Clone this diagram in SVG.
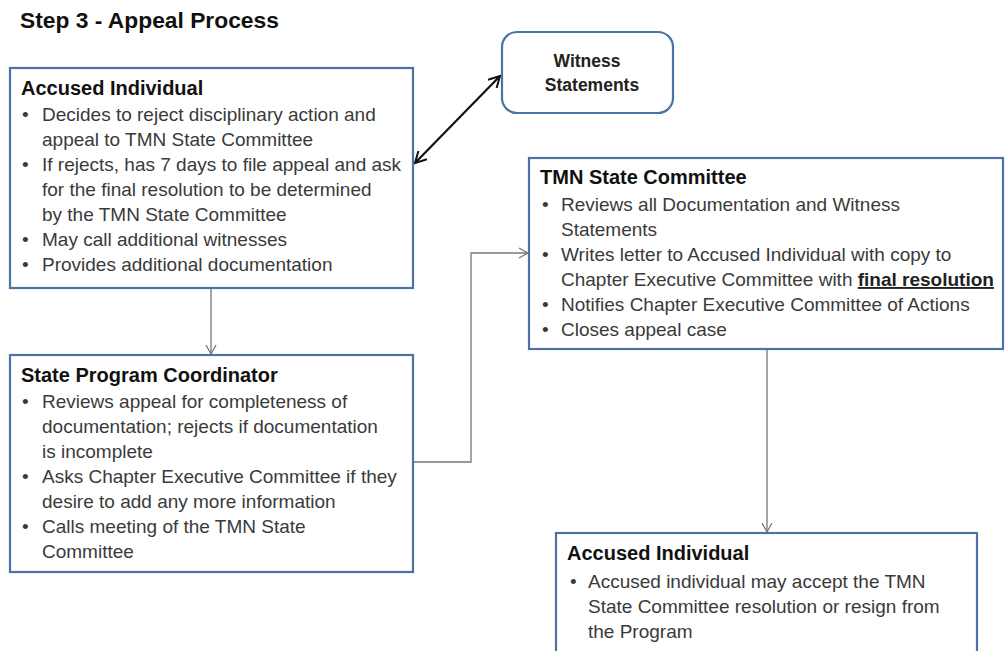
<svg xmlns="http://www.w3.org/2000/svg" width="1005" height="651" viewBox="0 0 1005 651">
<defs>
<style>
.box{fill:#fff;stroke:#4d72a8;stroke-width:2.2}
.hd{font-family:"Liberation Sans",Arial,sans-serif;font-weight:bold;font-size:20px;fill:#111}
.tx{font-family:"Liberation Sans",Arial,sans-serif;font-size:19px;fill:#3a3a3a}
.ws{font-family:"Liberation Sans",Arial,sans-serif;font-weight:bold;font-size:17.5px;fill:#222}
.title{font-family:"Liberation Sans",Arial,sans-serif;font-weight:bold;font-size:22.8px;fill:#111}
.con{fill:none;stroke:#777;stroke-width:1.3}
.dbl{fill:none;stroke:#111;stroke-width:2.2}
</style>
<marker id="ag" markerWidth="12" markerHeight="12" refX="10" refY="6" orient="auto" markerUnits="userSpaceOnUse">
<path d="M1,1 L10,6 L1,11" fill="none" stroke="#777" stroke-width="1.3"/>
</marker>
<marker id="ab" markerWidth="14" markerHeight="14" refX="12" refY="7" orient="auto-start-reverse" markerUnits="userSpaceOnUse">
<path d="M1,1 L12,7 L1,13" fill="none" stroke="#111" stroke-width="2"/>
</marker>
</defs>
<text class="title" x="20" y="28">Step 3 - Appeal Process</text>

<g id="connectors">
<line class="con" x1="211" y1="289" x2="211" y2="354" marker-end="url(#ag)"/>
<polyline class="con" points="413,462 471,462 471,253 528,253" marker-end="url(#ag)"/>
<line class="con" x1="767" y1="349" x2="767" y2="532" marker-end="url(#ag)"/>
<line class="dbl" x1="415" y1="163" x2="500" y2="76" marker-start="url(#ab)" marker-end="url(#ab)"/>
</g>

<g id="accused1">
<rect class="box" x="10" y="68" width="403" height="220"/>
<text class="hd" x="21" y="95">Accused Individual</text>
<g class="tx">
<text x="22" y="121">•</text><text x="42" y="121">Decides to reject disciplinary action and</text>
<text x="42" y="146">appeal to TMN State Committee</text>
<text x="22" y="171">•</text><text x="42" y="171">If rejects, has 7 days to file appeal and ask</text>
<text x="42" y="196">for the final resolution to be determined</text>
<text x="42" y="221">by the TMN State Committee</text>
<text x="22" y="246">•</text><text x="42" y="246">May call additional witnesses</text>
<text x="22" y="271">•</text><text x="42" y="271">Provides additional documentation</text>
</g>
</g>

<g id="witness">
<rect class="box" x="502" y="32" width="171" height="81" rx="15" ry="15"/>
<text class="ws" x="587" y="67" text-anchor="middle">Witness</text>
<text class="ws" x="592" y="91" text-anchor="middle">Statements</text>
</g>

<g id="tmn">
<rect class="box" x="529" y="158" width="474" height="191"/>
<text class="hd" x="540" y="184">TMN State Committee</text>
<g class="tx">
<text x="542" y="211">•</text><text x="561" y="211">Reviews all Documentation and Witness</text>
<text x="561" y="236">Statements</text>
<text x="542" y="261">•</text><text x="561" y="261">Writes letter to Accused Individual with copy to</text>
<text x="561" y="286">Chapter Executive Committee with <tspan font-weight="bold" fill="#222" text-decoration="underline">final resolution</tspan></text>
<text x="542" y="311">•</text><text x="561" y="311">Notifies Chapter Executive Committee of Actions</text>
<text x="542" y="336">•</text><text x="561" y="336">Closes appeal case</text>
</g>
</g>

<g id="coordinator">
<rect class="box" x="10" y="355" width="403" height="217"/>
<text class="hd" x="21" y="382">State Program Coordinator</text>
<g class="tx">
<text x="22" y="408">•</text><text x="42" y="408">Reviews appeal for completeness of</text>
<text x="42" y="433">documentation; rejects if documentation</text>
<text x="42" y="458">is incomplete</text>
<text x="22" y="483">•</text><text x="42" y="483">Asks Chapter Executive Committee if they</text>
<text x="42" y="508">desire to add any more information</text>
<text x="22" y="533">•</text><text x="42" y="533">Calls meeting of the TMN State</text>
<text x="42" y="558">Committee</text>
</g>
</g>

<g id="accused2">
<rect class="box" x="556" y="533" width="421" height="130"/>
<text class="hd" x="567" y="560">Accused Individual</text>
<g class="tx">
<text x="570" y="588">•</text><text x="588" y="588">Accused individual may accept the TMN</text>
<text x="588" y="613">State Committee resolution or resign from</text>
<text x="588" y="638">the Program</text>
</g>
</g>
</svg>
